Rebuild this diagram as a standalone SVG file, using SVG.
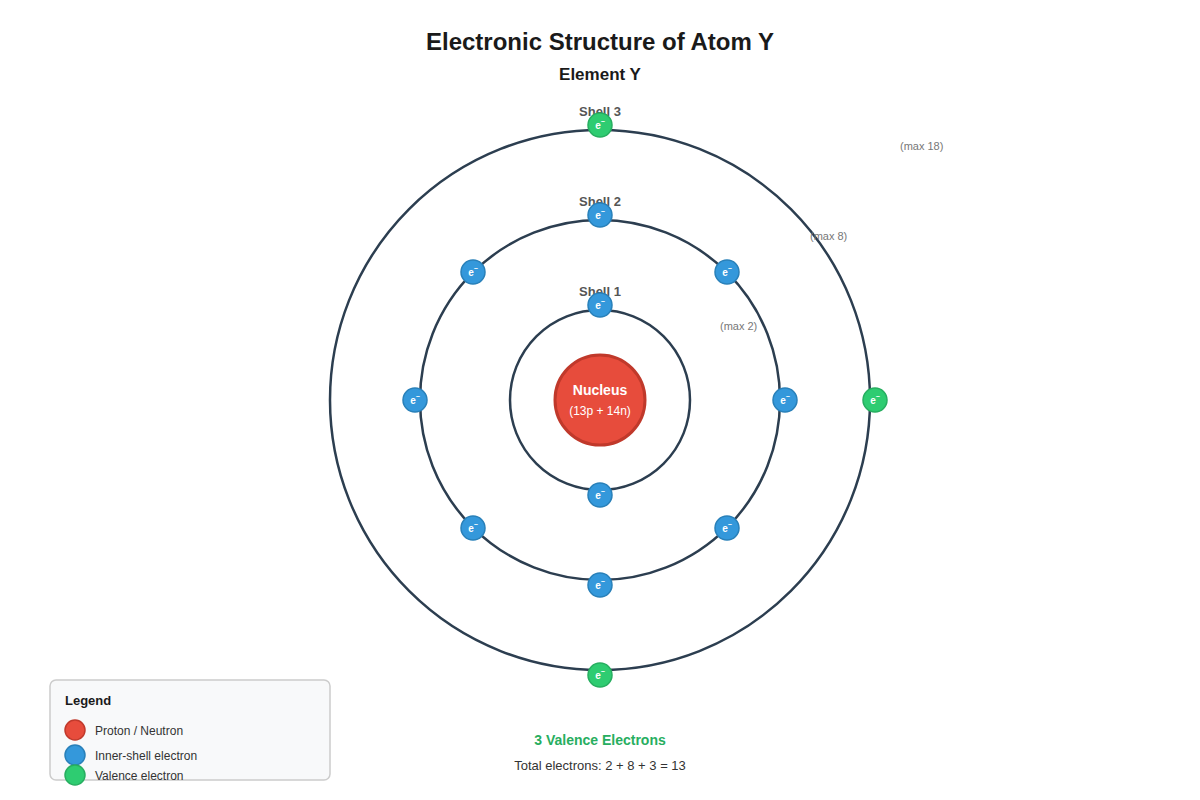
<svg xmlns="http://www.w3.org/2000/svg" width="1200" height="800" viewBox="0 0 1200 800">
<style>
text{font-family:"Liberation Sans",Arial,sans-serif}
.shell{fill:none;stroke:#2c3e50;stroke-width:2.5}
.inner{fill:#3498db;stroke:#2980b9;stroke-width:1.5}
.val{fill:#2ecc71;stroke:#27ae60;stroke-width:1.5}
.et{fill:#fff;font-size:10px;font-weight:bold;text-anchor:middle}
.sl{fill:#555;font-size:13px;font-weight:bold;text-anchor:middle}
.mx{fill:#777;font-size:11px}
.lg{fill:#333;font-size:12px}
</style>
<defs>
<g id="e"><text class="et" y="4">e<tspan dy="-5" font-size="7">−</tspan></text></g>
</defs>
<rect width="1200" height="800" fill="#fff"/>
<text x="600" y="50" text-anchor="middle" font-size="24" font-weight="bold" fill="#1a1a1a">Electronic Structure of Atom Y</text>
<text x="600" y="80" text-anchor="middle" font-size="17" font-weight="bold" fill="#1a1a1a">Element Y</text>
<g id="shells">
<circle class="shell" cx="600" cy="400" r="90"/>
<circle class="shell" cx="600" cy="400" r="180"/>
<circle class="shell" cx="600" cy="400" r="270"/>
<text class="sl" x="600" y="296">Shell 1</text>
<text class="sl" x="600" y="206">Shell 2</text>
<text class="sl" x="600" y="116">Shell 3</text>
<text class="mx" x="720" y="330">(max 2)</text>
<text class="mx" x="810" y="240">(max 8)</text>
<text class="mx" x="900" y="150">(max 18)</text>
</g>
<g id="nucleus">
<circle cx="600" cy="400" r="45" fill="#e74c3c" stroke="#c0392b" stroke-width="3"/>
<text x="600" y="395" text-anchor="middle" font-size="14" font-weight="bold" fill="#fff">Nucleus</text>
<text x="600" y="415" text-anchor="middle" font-size="12" fill="#fff">(13p + 14n)</text>
</g>
<g id="electrons">
<g transform="translate(600,305)"><circle class="inner" r="12"/><use href="#e"/></g>
<g transform="translate(600,495)"><circle class="inner" r="12"/><use href="#e"/></g>
<g transform="translate(600,215)"><circle class="inner" r="12"/><use href="#e"/></g>
<g transform="translate(727,272)"><circle class="inner" r="12"/><use href="#e"/></g>
<g transform="translate(785,400)"><circle class="inner" r="12"/><use href="#e"/></g>
<g transform="translate(727,528)"><circle class="inner" r="12"/><use href="#e"/></g>
<g transform="translate(600,585)"><circle class="inner" r="12"/><use href="#e"/></g>
<g transform="translate(473,528)"><circle class="inner" r="12"/><use href="#e"/></g>
<g transform="translate(415,400)"><circle class="inner" r="12"/><use href="#e"/></g>
<g transform="translate(473,272)"><circle class="inner" r="12"/><use href="#e"/></g>
<g transform="translate(600,125)"><circle class="val" r="12"/><use href="#e"/></g>
<g transform="translate(875,400)"><circle class="val" r="12"/><use href="#e"/></g>
<g transform="translate(600,675)"><circle class="val" r="12"/><use href="#e"/></g>
</g>
<g id="summary">
<text x="600" y="745" text-anchor="middle" font-size="14" font-weight="bold" fill="#27ae60">3 Valence Electrons</text>
<text x="600" y="770" text-anchor="middle" font-size="13" fill="#333">Total electrons: 2 + 8 + 3 = 13</text>
</g>
<g id="legend">
<rect x="50" y="680" width="280" height="100" rx="6" fill="#f8f9fa" stroke="#ccc" stroke-width="1.5"/>
<text x="65" y="705" font-size="13" font-weight="bold" fill="#1a1a1a">Legend</text>
<circle cx="75" cy="730" r="10" fill="#e74c3c" stroke="#c0392b" stroke-width="1.5"/>
<text class="lg" x="95" y="735">Proton / Neutron</text>
<circle cx="75" cy="755" r="10" class="inner"/>
<text class="lg" x="95" y="760">Inner-shell electron</text>
<circle cx="75" cy="775" r="10" class="val"/>
<text class="lg" x="95" y="780">Valence electron</text>
</g>
</svg>
